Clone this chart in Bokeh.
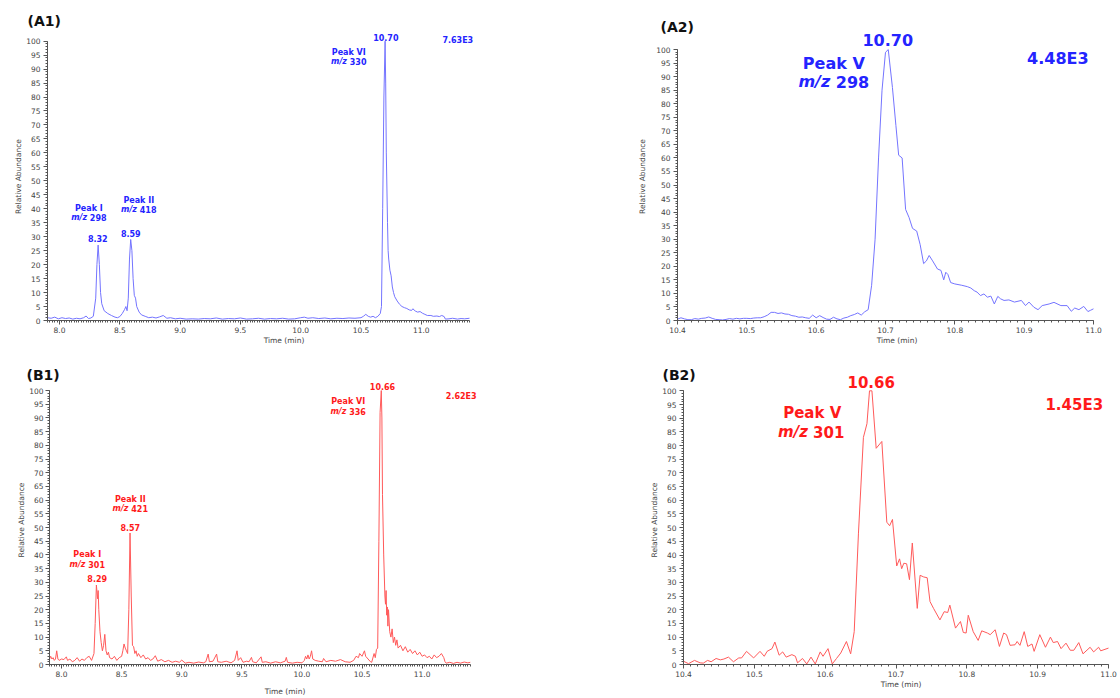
from bokeh.plotting import figure
from bokeh.models import Label, SingleIntervalTicker, PrintfTickFormatter, Range1d
from bokeh.layouts import column, row
from bokeh.embed import file_html
from bokeh.resources import INLINE

# ---------------- data ----------------
a1_time = [7.90, 7.93, 7.96, 7.99, 8.02, 8.05, 8.08, 8.11, 8.14, 8.17, 8.20, 8.22, 8.24, 8.26, 8.28,
           8.30, 8.31, 8.32, 8.33, 8.34, 8.35, 8.37, 8.40, 8.43, 8.46, 8.48, 8.50, 8.52, 8.54, 8.55,
           8.56, 8.57, 8.58, 8.59, 8.60, 8.61, 8.62, 8.63, 8.64, 8.66, 8.68, 8.71, 8.74, 8.77, 8.80,
           8.83, 8.86, 8.89, 8.92, 8.96, 9.00, 9.05, 9.10, 9.15, 9.20, 9.25, 9.30, 9.35, 9.40, 9.45,
           9.50, 9.55, 9.60, 9.65, 9.70, 9.75, 9.80, 9.85, 9.90, 9.95, 10.00, 10.03, 10.06, 10.10,
           10.15, 10.20, 10.25, 10.30, 10.35, 10.40, 10.45, 10.50, 10.52, 10.54, 10.56, 10.58, 10.60,
           10.62, 10.64, 10.66, 10.67, 10.68, 10.69, 10.70, 10.705, 10.71, 10.72, 10.725, 10.73,
           10.74, 10.75, 10.76, 10.77, 10.78, 10.80, 10.82, 10.84, 10.86, 10.88, 10.90, 10.92, 10.93,
           10.95, 10.97, 10.99, 11.01, 11.03, 11.05, 11.08, 11.10, 11.13, 11.15, 11.17, 11.19, 11.20,
           11.23, 11.26, 11.30, 11.33, 11.36, 11.40]
a1_abund = [1.0, 0.8, 1.2, 0.6, 1.0, 0.7, 0.9, 0.5, 0.8, 0.6, 1.0, 1.6, 0.7, 0.9, 1.5,
            8.0, 20.0, 27.0, 20.0, 10.0, 6.0, 3.5, 2.5, 1.8, 1.2, 1.0, 1.4, 2.5, 4.0, 5.0,
            3.5, 8.0, 22.0, 29.0, 25.0, 15.0, 9.0, 8.0, 5.0, 3.0, 2.0, 1.5, 1.0, 1.2, 0.9,
            1.3, 1.8, 0.8, 1.0, 0.6, 0.8, 0.5, 0.6, 0.5, 0.7, 0.6, 0.9, 0.5, 0.7, 0.6,
            0.9, 0.5, 0.6, 0.8, 0.5, 0.7, 0.6, 0.8, 0.5, 0.6, 1.0, 1.2, 0.8, 1.0,
            0.7, 0.9, 0.6, 0.8, 0.7, 0.9, 0.8, 1.0, 1.5, 2.2, 1.5, 1.2, 1.5,
            1.0, 1.5, 2.5, 5.0, 40.0, 80.0, 100.0, 85.0, 60.0, 35.0, 25.0, 22.0,
            18.0, 16.0, 12.0, 10.0, 8.5, 7.0, 5.8, 5.0, 4.6, 4.3, 3.8, 3.6, 4.2,
            3.4, 3.0, 3.2, 2.6, 2.2, 1.8, 1.8, 1.5, 1.6, 1.4, 1.8, 1.4, 0.5,
            0.6, 0.8, 0.5, 0.7, 0.6, 0.8]

a2_time = [10.400, 10.405, 10.410, 10.415, 10.420, 10.425, 10.430, 10.435, 10.440, 10.445, 10.450,
           10.455, 10.460, 10.465, 10.470, 10.475, 10.480, 10.485, 10.490, 10.495, 10.500, 10.505,
           10.510, 10.515, 10.520, 10.525, 10.530, 10.535, 10.540, 10.545, 10.550, 10.555, 10.560,
           10.565, 10.570, 10.575, 10.580, 10.585, 10.590, 10.595, 10.600, 10.605, 10.610, 10.615,
           10.620, 10.625, 10.630, 10.635, 10.640, 10.645, 10.650, 10.655, 10.660, 10.665, 10.670,
           10.675, 10.680, 10.685, 10.690, 10.695, 10.700, 10.704, 10.710, 10.715, 10.719, 10.724,
           10.729, 10.734, 10.739, 10.745, 10.750, 10.755, 10.759, 10.763, 10.768, 10.775, 10.780,
           10.784, 10.787, 10.790, 10.794, 10.800, 10.810, 10.818, 10.823, 10.828, 10.832, 10.837,
           10.842, 10.847, 10.852, 10.857, 10.862, 10.866, 10.871, 10.878, 10.886, 10.896, 10.902,
           10.907, 10.914, 10.920, 10.926, 10.936, 10.943, 10.953, 10.962, 10.968, 10.973, 10.979,
           10.986, 10.992, 10.996, 11.000]
a2_abund = [0.5, 1.0, 0.6, 0.3, 0.3, 0.7, 0.5, 0.8, 0.9, 1.3, 0.8,
            0.4, 0.3, 0.2, 0.4, 0.7, 0.5, 0.8, 0.6, 0.8, 0.8, 0.7,
            0.9, 1.0, 1.0, 1.4, 2.0, 3.0, 3.0, 2.6, 2.8, 2.4, 2.3,
            1.8, 1.6, 1.2, 1.3, 1.0, 0.8, 2.0, 1.0, 1.8, 1.1, 0.5,
            0.4, 1.2, 0.6, 0.3, 0.9, 1.2, 1.8, 2.2, 2.8, 2.0, 3.2,
            4.0, 13.0, 30.0, 60.0, 85.0, 99.0, 100.0, 86.0, 72.0, 61.0, 60.0,
            41.0, 38.0, 34.0, 33.0, 28.0, 21.0, 22.0, 24.0, 22.0, 19.0, 18.5,
            15.0, 17.8, 17.0, 14.0, 13.5, 13.0, 12.5, 12.0, 11.0, 10.5, 9.2,
            9.8, 8.6, 9.0, 6.1, 8.9, 8.0, 7.4, 7.6, 6.8, 7.4, 5.5,
            6.8, 4.9, 4.0, 5.5, 6.1, 6.7, 5.5, 5.5, 3.4, 4.6, 4.0,
            5.2, 3.3, 3.8, 4.3]

b1_time = [7.90, 7.91, 7.92, 7.93, 7.94, 7.95, 7.96, 7.97, 7.98, 8.00, 8.02, 8.04, 8.05, 8.07, 8.09,
           8.11, 8.13, 8.15, 8.17, 8.19, 8.21, 8.23, 8.25, 8.27, 8.28, 8.29, 8.30, 8.305, 8.31, 8.32,
           8.33, 8.34, 8.35, 8.36, 8.37, 8.38, 8.39, 8.40, 8.42, 8.44, 8.46, 8.48, 8.50, 8.51, 8.52,
           8.53, 8.54, 8.55, 8.56, 8.57, 8.58, 8.59, 8.60, 8.61, 8.62, 8.63, 8.64, 8.66, 8.68, 8.70,
           8.72, 8.74, 8.76, 8.78, 8.80, 8.83, 8.86, 8.89, 8.92, 8.95, 8.98, 9.00, 9.03, 9.06, 9.10,
           9.14, 9.18, 9.20, 9.22, 9.23, 9.26, 9.29, 9.30, 9.33, 9.37, 9.41, 9.44, 9.46, 9.47, 9.49,
           9.51, 9.54, 9.56, 9.58, 9.59, 9.62, 9.66, 9.67, 9.70, 9.74, 9.78, 9.82, 9.86, 9.87, 9.88,
           9.92, 9.96, 10.00, 10.02, 10.03, 10.04, 10.05, 10.06, 10.07, 10.08, 10.09, 10.11, 10.14,
           10.17, 10.18, 10.20, 10.24, 10.28, 10.32, 10.36, 10.40, 10.43, 10.45, 10.47, 10.48, 10.50,
           10.52, 10.53, 10.55, 10.57, 10.58, 10.60, 10.61, 10.62, 10.63, 10.64, 10.65, 10.66, 10.665,
           10.67, 10.68, 10.69, 10.695, 10.70, 10.705, 10.71, 10.715, 10.72, 10.73, 10.74, 10.75,
           10.76, 10.77, 10.78, 10.79, 10.80, 10.82, 10.84, 10.86, 10.88, 10.90, 10.92, 10.94, 10.96,
           10.98, 11.00, 11.02, 11.04, 11.06, 11.08, 11.10, 11.12, 11.14, 11.16, 11.18, 11.19, 11.20,
           11.23, 11.26, 11.29, 11.32, 11.35, 11.38, 11.40]
b1_abund = [2.0, 3.0, 2.0, 2.5, 1.5, 2.0, 5.0, 2.0, 1.5, 2.0, 1.8, 2.8, 1.5, 2.0, 1.0,
            1.5, 2.5, 1.2, 2.0, 1.5, 2.5, 3.0, 1.5, 4.0, 15.0, 29.0, 24.0, 27.0, 20.0, 12.0,
            8.0, 5.0, 7.0, 11.0, 5.0, 3.5, 4.5, 2.5, 2.0, 3.0, 1.5, 2.5, 3.0, 5.0, 7.5,
            6.0, 5.0, 4.0, 20.0, 48.0, 25.0, 7.0, 6.5, 4.0, 5.0, 3.0, 4.0, 2.5, 3.5, 2.0,
            2.5, 1.5, 2.0, 3.2, 1.2, 1.8, 1.0, 1.5, 0.8, 1.2, 0.8, 1.6, 0.5, 0.8, 0.5,
            0.9, 0.6, 1.0, 3.8, 1.0, 1.2, 3.8, 1.0, 0.8, 1.2, 0.6, 1.5, 5.0, 1.5, 2.5,
            0.8, 1.2, 1.0, 2.6, 1.0, 0.6, 2.8, 0.8, 1.0, 0.5, 1.0, 0.6, 1.2, 2.6, 0.8,
            0.5, 0.8, 0.6, 1.5, 3.0, 2.0, 3.5, 2.0, 3.0, 5.0, 2.0, 1.5, 1.2,
            1.0, 2.2, 1.0, 1.5, 1.2, 1.8, 1.0, 0.8, 1.5, 3.0, 2.5, 4.0, 3.0,
            5.0, 3.0, 2.0, 1.0, 0.8, 4.0, 2.5, 5.5, 6.0, 45.0, 92.0, 100.0, 90.0,
            62.0, 40.0, 25.0, 22.0, 27.0, 18.0, 21.0, 14.0, 20.0, 12.0, 10.0, 13.0,
            8.0, 10.0, 7.0, 9.0, 6.0, 7.0, 5.0, 6.5, 4.5, 5.5, 4.0, 5.0, 3.5,
            4.5, 3.0, 3.5, 2.5, 3.0, 2.0, 3.5, 2.5, 3.0, 4.0, 2.5, 1.0, 0.5,
            0.8, 0.4, 0.8, 0.5, 0.9, 0.6, 0.8]

b2_time = [10.400, 10.407, 10.4155, 10.4235, 10.428, 10.434, 10.439, 10.446, 10.452, 10.457, 10.4635,
           10.4705, 10.478, 10.482, 10.489, 10.499, 10.508, 10.514, 10.518, 10.525, 10.529, 10.535,
           10.540, 10.545, 10.553, 10.558, 10.561, 10.568, 10.574, 10.580, 10.586, 10.593, 10.597,
           10.604, 10.610, 10.616, 10.622, 10.630, 10.636, 10.641, 10.647, 10.654, 10.659, 10.6626,
           10.666, 10.672, 10.680, 10.687, 10.691, 10.695, 10.701, 10.705, 10.708, 10.711, 10.715,
           10.719, 10.723, 10.730, 10.734, 10.739, 10.744, 10.748, 10.753, 10.762, 10.768, 10.773,
           10.776, 10.784, 10.791, 10.795, 10.799, 10.802, 10.809, 10.816, 10.821, 10.829, 10.833,
           10.840, 10.846, 10.852, 10.856, 10.861, 10.868, 10.871, 10.875, 10.881, 10.886, 10.892,
           10.895, 10.903, 10.911, 10.918, 10.922, 10.928, 10.933, 10.940, 10.946, 10.951, 10.958,
           10.964, 10.974, 10.979, 10.986, 10.989, 11.000]
b2_abund = [1.2, 0.3, 1.5, 0.6, 0.5, 1.5, 1.0, 2.2, 1.7, 2.0, 2.7,
            1.0, 2.4, 2.4, 4.8, 2.4, 4.8, 3.0, 4.8, 5.8, 8.2, 3.4,
            4.6, 2.7, 3.6, 3.0, 0.6, 2.2, 0.2, 2.7, 0.2, 4.6, 3.0,
            5.8, 0.2, 2.2, 4.2, 8.4, 3.9, 12.0, 48.0, 83.0, 88.0, 100.0,
            100.0, 79.0, 81.5, 52.0, 50.7, 53.0, 36.0, 38.6, 35.0, 37.0, 36.8,
            31.0, 44.4, 20.5, 32.6, 32.0, 31.7, 23.0, 20.5, 16.3, 19.3, 19.0,
            21.7, 13.3, 15.7, 11.7, 11.5, 18.0, 12.0, 8.8, 12.3, 11.5, 10.9,
            12.7, 6.6, 11.5, 10.9, 7.0, 7.2, 8.4, 7.0, 12.0, 6.6, 7.5,
            4.8, 10.9, 6.3, 10.0, 8.0, 8.4, 5.8, 7.8, 5.2, 5.2, 8.0,
            3.9, 6.3, 4.6, 6.3, 5.0, 6.0]

FONT = "DejaVu Sans"
BLUE_LINE = "#7474ff"
BLUE_TEXT = "#2424ff"
RED_LINE = "#ff5a5a"
RED_TEXT = "#ff1a1a"
AXIS_COL = "#555555"


def make_fig(width, height, bl, br, bt, bb, xr, yr, xb, x_int, x_minor, ylab_standoff,
             ttl, ttl_offset, ttl_standoff=0):
    p = figure(width=width, height=height, output_backend="svg", toolbar_location=None,
               x_range=Range1d(*xr), y_range=Range1d(*yr),
               min_border_left=bl, min_border_right=br, min_border_top=bt, min_border_bottom=bb)
    p.outline_line_color = None
    p.xgrid.grid_line_color = None
    p.ygrid.grid_line_color = None
    p.background_fill_color = "white"
    p.border_fill_color = "white"
    p.title.text = ttl
    p.title.align = "left"
    p.title.offset = ttl_offset
    try:
        p.title.standoff = ttl_standoff
    except Exception:
        p.title.standoff = 0
    p.title.text_font = FONT
    p.title.text_font_size = "14px"
    p.title.text_font_style = "bold"
    p.title.text_color = "#111111"
    p.title.vertical_align = "middle"
    p.xaxis.bounds = xb
    p.yaxis.bounds = (0, 100)
    p.xaxis.ticker = SingleIntervalTicker(interval=x_int, num_minor_ticks=x_minor)
    p.yaxis.ticker = SingleIntervalTicker(interval=5, num_minor_ticks=5)
    p.xaxis.formatter = PrintfTickFormatter(format="%.1f")
    for ax in (p.xaxis[0], p.yaxis[0]):
        ax.axis_line_color = AXIS_COL
        ax.major_tick_line_color = AXIS_COL
        ax.minor_tick_line_color = AXIS_COL
        ax.major_tick_in = 0
        ax.major_tick_out = 4
        ax.minor_tick_in = 0
        ax.minor_tick_out = 2
        ax.major_label_text_font = FONT
        ax.major_label_text_font_size = "7.5px"
        ax.major_label_text_color = "#444444"
        ax.axis_label_text_font = FONT
        ax.axis_label_text_font_size = "7.5px"
        ax.axis_label_text_font_style = "normal"
        ax.axis_label_text_color = "#444444"
    p.xaxis.axis_label = "Time (min)"
    p.yaxis.axis_label = "Relative Abundance"
    p.xaxis.major_label_standoff = 2
    p.xaxis.axis_label_standoff = 0
    p.yaxis.major_label_standoff = 3
    p.yaxis.axis_label_standoff = ylab_standoff
    return p


def txt(p, x, y, s, color, size, style="bold", align="center", xoff=0):
    p.add_layout(Label(x=x, y=y, text=s, text_color=color, text_font=FONT,
                       text_font_size=f"{size}px", text_font_style=style,
                       text_align=align, text_baseline="middle", x_offset=xoff))


def mz(p, x, y, num, color, size):
    # "m/z" in bold italic, number in bold, centred as one line
    w_mz = 1.989 * size
    w_num = 2.436 * size
    split = -(w_mz + w_num) / 2 + w_mz
    txt(p, x, y, "m/z", color, size, style="bold italic", align="right", xoff=split)
    txt(p, x, y, num, color, size, style="bold", align="left", xoff=split + 0.348 * size)


# ---------------- A1 ----------------
a1 = make_fig(600, 349, 47, 80, 32, 29, (7.9, 11.823), (0, 103.1), (7.9, 11.4), 0.5, 25, 0,
              "(A1)", -20, 5)
a1.line(a1_time, a1_abund, color=BLUE_LINE, line_width=1)
txt(a1, 10.706, 101.4, "10.70", BLUE_TEXT, 8)
txt(a1, 11.303, 100.25, "7.63E3", BLUE_TEXT, 8)
txt(a1, 10.399, 96.0, "Peak VI", BLUE_TEXT, 8)
mz(a1, 10.399, 92.7, "330", BLUE_TEXT, 8)
txt(a1, 8.243, 40.1, "Peak I", BLUE_TEXT, 8)
mz(a1, 8.243, 36.9, "298", BLUE_TEXT, 8)
txt(a1, 8.317, 29.4, "8.32", BLUE_TEXT, 8)
txt(a1, 8.657, 43.0, "Peak II", BLUE_TEXT, 8)
mz(a1, 8.657, 39.7, "418", BLUE_TEXT, 8)
txt(a1, 8.591, 31.1, "8.59", BLUE_TEXT, 8)

# ---------------- A2 ----------------
a2 = make_fig(520, 349, 77, 4, 32, 29, (10.4, 11.0332), (0, 106.3), (10.4, 11.0), 0.1, 10, 6,
              "(A2)", -17, -7)
a2.line(a2_time, a2_abund, color=BLUE_LINE, line_width=1)
txt(a2, 10.7033, 103.7, "10.70", BLUE_TEXT, 16)
txt(a2, 10.6255, 94.8, "Peak V", BLUE_TEXT, 16)
mz(a2, 10.6255, 88.2, "298", BLUE_TEXT, 16)
txt(a2, 10.9486, 96.7, "4.48E3", BLUE_TEXT, 16)

# ---------------- B1 ----------------
b1 = make_fig(600, 349, 49, 80, 26, 31, (7.9, 11.818), (0, 105.5), (7.9, 11.4), 0.5, 25, 0,
              "(B1)", -23, -17)
b1.line(b1_time, b1_abund, color=RED_LINE, line_width=1)
b1.yaxis.major_label_standoff = 2
b1.xaxis.axis_label_standoff = 7
txt(b1, 10.67, 101.6, "10.66", RED_TEXT, 8)
txt(b1, 11.325, 97.9, "2.62E3", RED_TEXT, 8)
txt(b1, 10.385, 96.1, "Peak VI", RED_TEXT, 8)
mz(b1, 10.385, 92.5, "336", RED_TEXT, 8)
txt(b1, 8.572, 60.4, "Peak II", RED_TEXT, 8)
mz(b1, 8.572, 57.1, "421", RED_TEXT, 8)
txt(b1, 8.572, 49.9, "8.57", RED_TEXT, 8)
txt(b1, 8.214, 40.1, "Peak I", RED_TEXT, 8)
mz(b1, 8.214, 36.5, "301", RED_TEXT, 8)
txt(b1, 8.297, 31.4, "8.29", RED_TEXT, 8)

# ---------------- B2 ----------------
b2 = make_fig(520, 349, 83, 2, 26, 31, (10.4, 11.0141), (0, 105.6), (10.4, 11.0), 0.1, 10, 0,
              "(B2)", -21, -17)
b2.line(b2_time, b2_abund, color=RED_LINE, line_width=1)
txt(b2, 10.665, 103.4, "10.66", RED_TEXT, 15)
txt(b2, 10.5817, 91.8, "Peak V", RED_TEXT, 15)
mz(b2, 10.5803, 84.9, "301", RED_TEXT, 15)
txt(b2, 10.9516, 94.7, "1.45E3", RED_TEXT, 15)

layout = column(row(a1, a2), row(b1, b2))
open("out.html", "w").write(file_html(layout, INLINE))
